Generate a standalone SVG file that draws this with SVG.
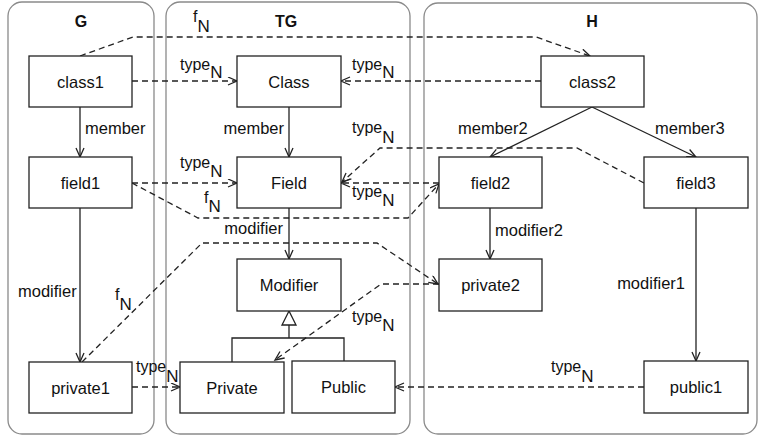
<svg xmlns="http://www.w3.org/2000/svg" width="758" height="437" viewBox="0 0 758 437">
<style>
.cont{fill:#fff;stroke:#8a8a8a;stroke-width:1.3}
.box{fill:#fff;stroke:#222;stroke-width:1.3}
.t{font-family:"Liberation Sans",Arial,sans-serif;font-size:16.5px;fill:#111}
.hd{font-family:"Liberation Sans",Arial,sans-serif;font-size:16px;font-weight:bold;fill:#111}
.lb{font-family:"Liberation Sans",Arial,sans-serif;font-size:16px;fill:#111}
.n{font-size:17px}
.s{fill:none;stroke:#222;stroke-width:1.3}
.d{fill:none;stroke:#222;stroke-width:1.3;stroke-dasharray:6 4}
</style>
<defs>
<marker id="a" markerWidth="12" markerHeight="10" refX="10" refY="4.5" orient="auto" markerUnits="userSpaceOnUse">
<path d="M1,0.5 L10,4.5 L1,8.5" fill="none" stroke="#222" stroke-width="1.3"/>
</marker>
</defs>
<g id="G"><rect class="cont" x="8" y="2" width="146" height="432" rx="14"/><text class="hd" x="81" y="27" text-anchor="middle">G</text></g>
<g id="TG"><rect class="cont" x="166" y="2" width="244" height="432" rx="14"/><text class="hd" x="286" y="27" text-anchor="middle">TG</text></g>
<g id="H"><rect class="cont" x="424" y="3" width="333" height="431" rx="14"/><text class="hd" x="592" y="27" text-anchor="middle">H</text></g>

<g id="connectors">
<path class="d" d="M80,56 L133,37 L536,37 L590,56" marker-end="url(#a)"/>
<path class="d" d="M132,81 L237,81" marker-end="url(#a)"/>
<path class="d" d="M541,81 L341,81" marker-end="url(#a)"/>
<path class="s" d="M80,107 L80,157" marker-end="url(#a)"/>
<path class="s" d="M289,107 L289,157" marker-end="url(#a)"/>
<path class="s" d="M592,107 L490,157" marker-end="url(#a)"/>
<path class="s" d="M592,107 L696,157" marker-end="url(#a)"/>
<path class="d" d="M644,183 L577,148 L380,148 L342,182" marker-end="url(#a)"/>
<path class="d" d="M439,183 L341,183" marker-end="url(#a)"/>
<path class="d" d="M132,183 L237,183" marker-end="url(#a)"/>
<path class="d" d="M132,183 L198,218 L408,218 L439,184" marker-end="url(#a)"/>
<path class="s" d="M289,208 L289,259" marker-end="url(#a)"/>
<path class="s" d="M80,208 L80,362" marker-end="url(#a)"/>
<path class="d" d="M82,362 L202,243 L377,243 L438,284" marker-end="url(#a)"/>
<path class="d" d="M439,284 L381,284 L275,360" marker-end="url(#a)"/>
<path class="s" d="M490,208 L490,259" marker-end="url(#a)"/>
<path class="s" d="M696,208 L696,361" marker-end="url(#a)"/>
<path class="d" d="M132,387 L180,387" marker-end="url(#a)"/>
<path class="d" d="M644,387 L395,387" marker-end="url(#a)"/>
<path class="s" d="M289,325 L289,338 M232,362 L232,338 L344,338 L344,361"/>
<path d="M289,311 L282,325 L296,325 Z" fill="#fff" stroke="#222" stroke-width="1.3"/>

<text class="lb" x="193" y="22">f<tspan class="n" dy="10">N</tspan></text>
<text class="lb" x="180" y="70">type<tspan class="n" dy="8">N</tspan></text>
<text class="lb" x="352" y="70">type<tspan class="n" dy="8">N</tspan></text>
<text class="t" x="85" y="134">member</text>
<text class="t" x="284" y="134" text-anchor="end">member</text>
<text class="t" x="458" y="134">member2</text>
<text class="t" x="655" y="134">member3</text>
<text class="lb" x="352" y="133">type<tspan class="n" dy="10">N</tspan></text>
<text class="lb" x="180" y="168">type<tspan class="n" dy="9">N</tspan></text>
<text class="lb" x="352" y="197">type<tspan class="n" dy="9">N</tspan></text>
<text class="lb" x="204" y="203">f<tspan class="n" dy="9">N</tspan></text>
<text class="t" x="283" y="234" text-anchor="end">modifier</text>
<text class="t" x="495" y="236">modifier2</text>
<text class="t" x="18" y="297">modifier</text>
<text class="lb" x="115" y="300">f<tspan class="n" dy="10">N</tspan></text>
<text class="t" x="685" y="289" text-anchor="end">modifier1</text>
<text class="lb" x="352" y="322">type<tspan class="n" dy="9">N</tspan></text>
<text class="lb" x="136" y="372">type<tspan class="n" dy="10">N</tspan></text>
<text class="lb" x="551" y="372">type<tspan class="n" dy="10">N</tspan></text>
</g>

<g id="class1"><rect class="box" x="29" y="56" width="103" height="51"/><text class="t" x="80.5" y="87.5" text-anchor="middle">class1</text></g>
<g id="Class"><rect class="box" x="237" y="56" width="104" height="51"/><text class="t" x="289" y="87.5" text-anchor="middle">Class</text></g>
<g id="class2"><rect class="box" x="541" y="56" width="103" height="51"/><text class="t" x="592.5" y="87.5" text-anchor="middle">class2</text></g>
<g id="field1"><rect class="box" x="29" y="157" width="103" height="51"/><text class="t" x="80.5" y="188.5" text-anchor="middle">field1</text></g>
<g id="Field"><rect class="box" x="237" y="157" width="104" height="51"/><text class="t" x="289" y="188.5" text-anchor="middle">Field</text></g>
<g id="field2"><rect class="box" x="439" y="157" width="103" height="51"/><text class="t" x="490.5" y="188.5" text-anchor="middle">field2</text></g>
<g id="field3"><rect class="box" x="644" y="157" width="104" height="51"/><text class="t" x="696" y="188.5" text-anchor="middle">field3</text></g>
<g id="Modifier"><rect class="box" x="237" y="259" width="104" height="52"/><text class="t" x="289" y="291" text-anchor="middle">Modifier</text></g>
<g id="private2"><rect class="box" x="439" y="259" width="103" height="52"/><text class="t" x="490.5" y="291" text-anchor="middle">private2</text></g>
<g id="private1"><rect class="box" x="29" y="362" width="103" height="51"/><text class="t" x="80.5" y="393.5" text-anchor="middle">private1</text></g>
<g id="Private"><rect class="box" x="180" y="362" width="104" height="51"/><text class="t" x="232" y="393.5" text-anchor="middle">Private</text></g>
<g id="Public"><rect class="box" x="292" y="361" width="103" height="52"/><text class="t" x="343.5" y="393" text-anchor="middle">Public</text></g>
<g id="public1"><rect class="box" x="644" y="361" width="104" height="52"/><text class="t" x="696" y="393" text-anchor="middle">public1</text></g>
</svg>
